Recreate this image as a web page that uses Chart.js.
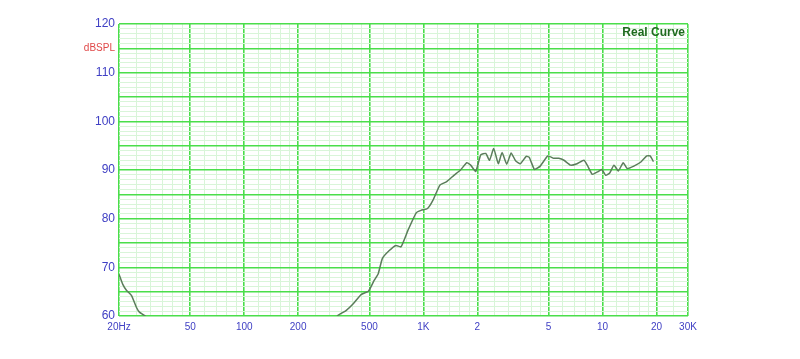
<!DOCTYPE html>
<html>
<head>
<meta charset="utf-8">
<script src="https://cdn.jsdelivr.net/npm/chart.js@4.4.1/dist/chart.umd.min.js"></script>
<style>
  html, body { margin: 0; padding: 0; background: #fff; }
  #chart { display: block; }
</style>
</head>
<body>
<canvas id="chart" width="800" height="359"></canvas>
<script>
// frequency (Hz) and level (dB SPL)
const freqs = [
  20, 21, 22, 23.5, 25, 26, 28, 30,
  300, 333, 370, 406, 449, 494, 531, 560, 590, 643, 703, 750,
  820, 912, 970, 1055, 1132, 1237, 1349, 1480, 1612, 1746, 1836, 1960,
  2090, 2230, 2340, 2470, 2620, 2750, 2920, 3090, 3270, 3480, 3750, 3900,
  4170, 4490, 4950, 5340, 5700, 6090, 6630, 7210, 7870, 8220, 8770, 9360,
  9900, 10420, 10970, 11590, 12250, 13050, 13720, 14960, 16440, 17650, 18440, 19250
];
const levels = [
  68.6, 66.5, 65.3, 64.2, 61.8, 60.8, 60.0, 58.0,
  58.0, 60.1, 61.1, 62.5, 64.4, 65.1, 67.3, 68.7, 71.8, 73.4, 74.5, 74.2,
  77.6, 81.2, 81.7, 82.1, 83.8, 86.9, 87.6, 88.9, 90.0, 91.5, 91.0, 89.7,
  93.1, 93.4, 92.0, 94.4, 91.3, 93.6, 91.2, 93.5, 91.9, 91.3, 92.8, 92.6,
  90.1, 90.8, 92.9, 92.4, 92.4, 92.0, 91.0, 91.3, 92.0, 91.0, 89.1, 89.6,
  90.1, 88.9, 89.4, 91.0, 89.8, 91.5, 90.3, 90.8, 91.7, 92.9, 92.9, 91.7
];

// x axis: labelled (major) lines and light (minor) lines
const xMajor = [20, 50, 100, 200, 500, 1000, 2000, 5000, 10000, 20000, 30000];
const xLabels = ['20Hz', '50', '100', '200', '500', '1K', '2', '5', '10', '20', '30K'];
const xMinor = [
  25, 30, 35, 40, 45, 60, 70, 80, 90,
  120, 140, 160, 180, 250, 300, 350, 400, 450, 600, 700, 800, 900,
  1200, 1400, 1600, 1800, 2500, 3000, 3500, 4000, 4500, 6000, 7000, 8000, 9000,
  12000, 14000, 16000, 18000, 25000
];
// y axis
const yMin = 60, yMax = 120;
const yLabels = { 60: '60', 70: '70', 80: '80', 90: '90', 100: '100', 110: '110', 120: '120', 115: 'dBSPL' };
const title = 'Real Curve';

const MAJOR = '#4ade4a', MINOR = '#d9f5d9';
const TICK_BLUE = '#4040c4', UNIT_RED = '#e04848';
const FONT = '"Liberation Sans", Arial, sans-serif';

const realCurveLabel = {
  id: 'realCurveLabel',
  afterDraw(chart) {
    const { ctx, chartArea } = chart;
    ctx.save();
    ctx.font = 'bold 12px ' + FONT;
    ctx.fillStyle = '#1f6b1f';
    ctx.textAlign = 'right';
    ctx.textBaseline = 'middle';
    ctx.fillText(title, chartArea.right - 3, chartArea.top + 9);
    ctx.restore();
  }
};

const points = freqs.map((f, i) => ({ x: f, y: levels[i] }));

new Chart(document.getElementById('chart'), {
  type: 'line',
  data: {
    datasets: [{
      label: title,
      data: points,
      borderColor: '#5b7d5b',
      borderWidth: 1.5,
      pointRadius: 0,
      tension: 0.15,
      fill: false
    }]
  },
  options: {
    responsive: false,
    animation: false,
    layout: { padding: { left: 0, right: 112, top: 24, bottom: 0 } },
    plugins: { legend: { display: false }, tooltip: { enabled: false } },
    scales: {
      x: {
        type: 'logarithmic',
        min: 20,
        max: 30000,
        afterBuildTicks: (scale) => {
          scale.ticks = xMajor.concat(xMinor).sort((a, b) => a - b).map(v => ({ value: v }));
        },
        afterFit: (scale) => { scale.height = 43; },
        border: { display: false },
        grid: {
          drawTicks: false,
          color: (ctx) => xMajor.includes(ctx.tick && ctx.tick.value) ? MAJOR : MINOR,
          lineWidth: (ctx) => xMajor.includes(ctx.tick && ctx.tick.value) ? 1.6 : 1
        },
        ticks: {
          autoSkip: false,
          maxRotation: 0,
          padding: 5,
          color: TICK_BLUE,
          font: { family: FONT, size: 10 },
          callback: (v) => {
            const i = xMajor.indexOf(v);
            return i >= 0 ? xLabels[i] : '';
          }
        }
      },
      y: {
        type: 'linear',
        min: yMin,
        max: yMax,
        afterBuildTicks: (scale) => {
          const t = [];
          for (let v = yMin; v <= yMax; v++) t.push({ value: v });
          scale.ticks = t;
        },
        afterFit: (scale) => { scale.width = 119; },
        border: { display: false },
        grid: {
          drawTicks: false,
          color: (ctx) => (ctx.tick && ctx.tick.value % 5 === 0) ? MAJOR : MINOR,
          lineWidth: (ctx) => (ctx.tick && ctx.tick.value % 5 === 0) ? 1.6 : 1
        },
        ticks: {
          autoSkip: false,
          padding: 4,
          color: (ctx) => ctx.tick && ctx.tick.value === 115 ? UNIT_RED : TICK_BLUE,
          font: (ctx) => ctx.tick && ctx.tick.value === 115
            ? { family: FONT, size: 10 }
            : { family: FONT, size: 12 },
          callback: (v) => yLabels[v] || ''
        }
      }
    }
  },
  plugins: [realCurveLabel]
});
</script>
</body>
</html>
